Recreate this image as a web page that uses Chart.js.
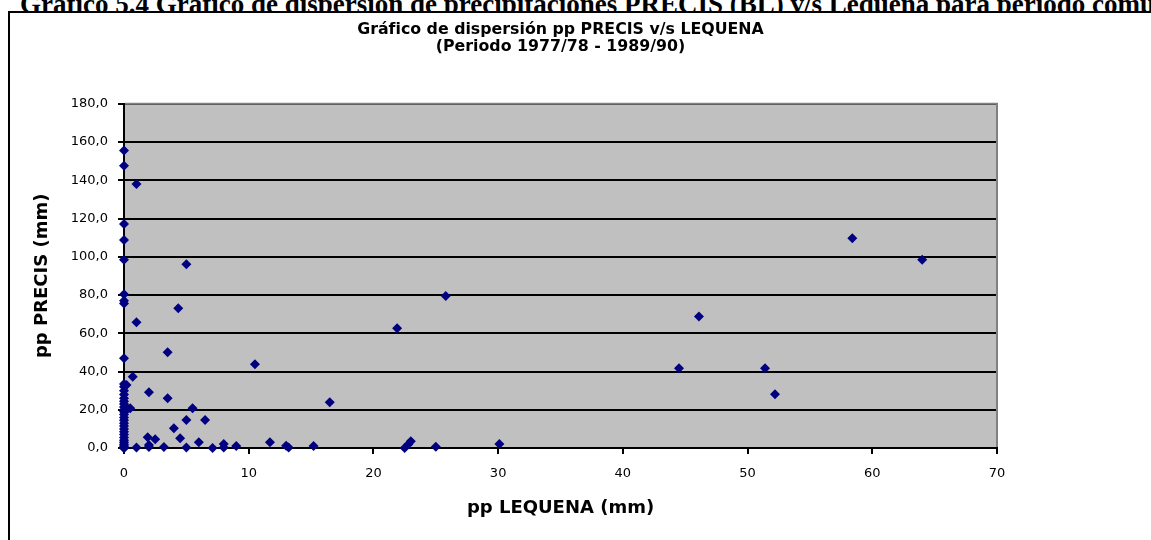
<!DOCTYPE html>
<html lang="es">
<head>
    <meta charset="UTF-8">
    <meta name="viewport" content="width=device-width, initial-scale=1.0">
    <title>Gráfico 5.4</title>
    <script src="https://cdn.jsdelivr.net/npm/chart.js@4.4.0/dist/chart.umd.min.js"></script>
    <style>
        html, body {
            margin: 0;
            padding: 0;
            width: 1151px;
            height: 540px;
            overflow: hidden;
            background: #fff;
        }
        .heading {
            position: absolute;
            left: 20px;
            top: -9px;
            font: bold 27px "Liberation Serif", "Times New Roman", serif;
            line-height: 26px;
            white-space: nowrap;
            z-index: 1;
        }
        .frame {
            position: absolute;
            left: 8px;
            top: 11px;
            width: 1300px;
            height: 700px;
            border: 2px solid #000;
            background: #fff;
            z-index: 2;
        }
        .chartBox {
            position: absolute;
            left: 0;
            top: 0;
            width: 1151px;
            height: 540px;
            z-index: 3;
        }
    </style>
</head>
<body>
    <div class="heading">Gráfico 5.4 Gráfico de dispersión de precipitaciones PRECIS (BL) v/s Lequena para período común</div>
    <div class="frame"></div>
    <!-- area to draw the scatter chart -->
    <div class="chartBox"><canvas id="scatter"></canvas></div>
</body>
<script>
    // pp LEQUENA (mm)
    var leqX = [
        0, 0, 0, 0, 0, 0, 0, 0, 0,
        0, 0, 0, 0, 0, 0, 0, 0, 0, 0,
        0, 0, 0, 0, 0, 0, 0, 0, 0, 0,
        0, 0, 0, 0, 0, 0, 0.2, 0.3,
        1.0, 5.0, 4.35, 1.0, 0.7, 3.5, 10.5, 2.0, 3.5, 0.5,
        5.5, 16.5, 5.0, 6.5, 4.0, 4.5, 1.9, 2.5, 2.0, 2.0,
        1.0, 3.2, 5.0, 6.0, 7.1, 8.0, 8.0, 9.0, 11.7, 13.0,
        13.2, 15.2, 21.9, 25.8, 22.5, 22.8, 23.0, 25.0, 30.1,
        44.5, 46.1, 51.4, 52.2, 58.4, 64.0
    ];
    // pp PRECIS (mm), same order
    var precisY = [
        155.6, 147.6, 117.1, 108.8, 98.4, 80.4, 77.0, 75.5, 46.9,
        33.5, 32.0, 30.0, 28.0, 26.0, 24.5, 23.0, 21.5, 20.0, 19.0,
        17.5, 16.0, 14.5, 13.0, 11.5, 10.0, 8.5, 7.0, 5.5, 4.0,
        3.0, 2.0, 1.0, 0.5, 0.0, 0.0, 33.0, 20.5,
        138.0, 96.1, 73.1, 65.8, 37.3, 50.1, 43.8, 29.1, 26.0, 20.8,
        20.8, 23.9, 14.7, 14.7, 10.3, 5.1, 5.6, 4.6, 1.6, 0.5,
        0.3, 0.5, 0.2, 3.0, 0.0, 2.1, 0.2, 1.0, 3.0, 1.2,
        0.2, 1.0, 62.6, 79.5, 0.0, 2.0, 3.5, 0.7, 2.1,
        41.7, 68.7, 41.7, 28.1, 109.7, 98.4
    ];

    var chartTitle = ['Gráfico de dispersión pp PRECIS v/s LEQUENA', '(Periodo 1977/78 - 1989/90)'];
    var xTitle = 'pp LEQUENA (mm)';
    var yTitle = 'pp PRECIS (mm)';

    var points = leqX.map(function (x, i) { return { x: x, y: precisY[i] }; });

    var sans = '"DejaVu Sans", Verdana, sans-serif';

    // grey plot area with grey top and right edges (Excel style)
    const plotArea = {
        id: 'plotArea',
        beforeDraw(chart) {
            const a = chart.chartArea, c = chart.ctx;
            c.save();
            c.fillStyle = '#c0c0c0';
            c.fillRect(a.left, a.top, a.right - a.left, a.bottom - a.top);
            c.restore();
        },
        beforeDatasetsDraw(chart) {
            const a = chart.chartArea, c = chart.ctx;
            c.save();
            c.strokeStyle = '#808080';
            c.lineWidth = 2;
            c.beginPath();
            c.moveTo(a.left + 1, a.top);
            c.lineTo(a.right, a.top);
            c.lineTo(a.right, a.bottom - 1);
            c.stroke();
            c.restore();
        }
    };

    const config = {
        type: 'scatter',
        data: {
            datasets: [{
                data: points,
                clip: false,
                pointStyle: 'rectRot',
                pointRadius: 5,
                pointHoverRadius: 5,
                backgroundColor: '#000080',
                borderColor: '#000080',
                borderWidth: 0
            }]
        },
        options: {
            animation: false,
            responsive: true,
            maintainAspectRatio: false,
            layout: { padding: { top: 12, left: 32, right: 154, bottom: 21 } },
            plugins: {
                legend: { display: false },
                tooltip: { enabled: false },
                title: {
                    display: true,
                    fullSize: false,
                    text: chartTitle,
                    color: '#000',
                    font: { family: sans, size: 15.8, weight: 'bold', lineHeight: 1.1 },
                    padding: { top: 9, bottom: 48 }
                }
            },
            scales: {
                x: {
                    type: 'linear',
                    min: 0,
                    max: 70,
                    ticks: { stepSize: 10, padding: 12, color: '#000', font: { family: sans, size: 13 } },
                    grid: { drawOnChartArea: false, tickLength: 6, color: '#000', lineWidth: 2 },
                    border: { color: '#000', width: 2 },
                    title: { display: true, text: xTitle, color: '#000', padding: 0,
                             font: { family: sans, size: 18, weight: 'bold' } },
                    afterFit(s) { s.height = 71; }
                },
                y: {
                    min: 0,
                    max: 180,
                    ticks: {
                        stepSize: 20, padding: 10, color: '#000', font: { family: sans, size: 13 },
                        callback: function (v) { return v.toFixed(1).replace('.', ','); }
                    },
                    grid: { tickLength: 6, color: '#000', lineWidth: 2 },
                    border: { color: '#000', width: 2 },
                    title: { display: true, text: yTitle, color: '#000', padding: 0,
                             font: { family: sans, size: 18, weight: 'bold' } },
                    afterFit(s) { s.width = 92; }
                }
            }
        },
        plugins: [plotArea]
    };

    const myChart = new Chart(document.getElementById('scatter'), config);
</script>
</html>
